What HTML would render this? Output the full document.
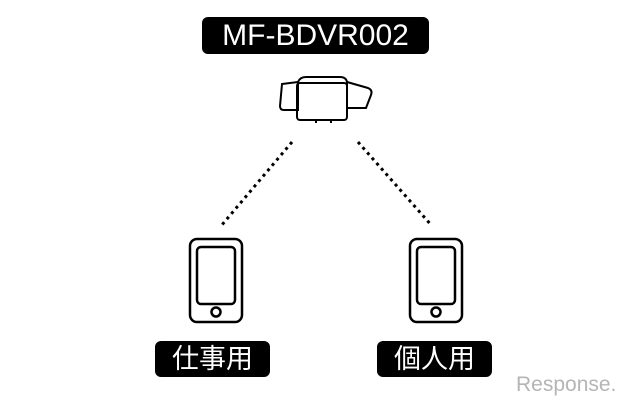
<!DOCTYPE html>
<html><head><meta charset="utf-8"><style>
body{margin:0;width:640px;height:407px;background:#fff;overflow:hidden;position:relative;font-family:"Liberation Sans","Noto Sans CJK JP",sans-serif}
.lbl{position:absolute;background:#000;color:#fff;border-radius:6px;text-align:center}
</style></head><body>
<div class="lbl" style="left:202px;top:17px;width:227px;height:37px;line-height:37px;font-size:30px;">MF-BDVR002</div>
<div class="lbl" style="left:155px;top:341px;width:115px;height:36px;line-height:36px;font-size:27px;">仕事用</div>
<div class="lbl" style="left:377px;top:341px;width:115px;height:36px;line-height:36px;font-size:27px;">個人用</div>
<svg width="640" height="407" style="position:absolute;left:0;top:0" fill="none" stroke="#000">
<g stroke-width="2">
<path d="M282 84 L298 82 L298 110 L284 110 Q280 110 280 106 Z"/>
<path d="M347 82 L368 88 Q373 90 371 95 L366 108 L347 108 Z"/>
<path d="M298 82 Q300 77 306 77 L340 77 Q346 77 347 82"/>
<rect x="297" y="83" width="50" height="37" rx="3"/>
<line x1="316" y1="121" x2="316" y2="123"/><line x1="331" y1="121" x2="331" y2="123"/>
</g>
<g stroke-width="3" stroke-dasharray="3 4">
<line x1="292" y1="142" x2="221" y2="226"/>
<line x1="358" y1="142" x2="432" y2="226"/>
</g>
<g stroke-width="2.5">
<rect x="190" y="239" width="52" height="83" rx="7"/>
<rect x="197" y="247" width="38" height="57" rx="4"/>
<circle cx="216" cy="312" r="4.5"/>
<rect x="410" y="239" width="52" height="83" rx="7"/>
<rect x="417" y="247" width="38" height="57" rx="4"/>
<circle cx="436" cy="312" r="4.5"/>
</g>
</svg>
<div style="position:absolute;left:516px;top:373px;font-size:21px;color:#b5b5b5;">Response.</div>
</body></html>
